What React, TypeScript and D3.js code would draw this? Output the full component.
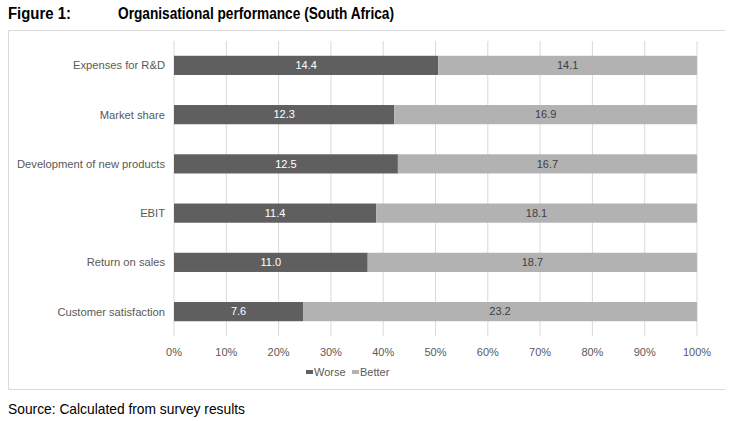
import * as d3 from 'd3';

const categories = [
  'Expenses for R&D',
  'Market share',
  'Development of new products',
  'EBIT',
  'Return on sales',
  'Customer satisfaction',
];
const worse = [14.4, 12.3, 12.5, 11.4, 11.0, 7.6];
const better = [14.1, 16.9, 16.7, 18.1, 18.7, 23.2];
const xTicks = [0, 0.1, 0.2, 0.3, 0.4, 0.5, 0.6, 0.7, 0.8, 0.9, 1];

const darkColor = '#5f5f5f';
const lightColor = '#b2b2b2';
const narrow = '"Liberation Sans Narrow", "Arial Narrow", "Liberation Sans", Arial, sans-serif';
const sans = '"Liberation Sans", Arial, sans-serif';

export default function App() {
  const width = 730;
  const height = 421;
  const plot = { left: 174, right: 697, top: 41, bottom: 336 };

  const x = d3.scaleLinear().domain([0, 1]).range([plot.left, plot.right]);
  const y = d3
    .scaleBand<string>()
    .domain(categories)
    .range([plot.top, plot.bottom])
    .paddingInner(0.61)
    .paddingOuter(0.3);

  const rows = categories.map((name, i) => {
    const total = worse[i] + better[i];
    return { name, worse: worse[i], better: better[i], split: worse[i] / total };
  });

  return (
    <svg
      width={width}
      height={height}
      style={{ position: 'absolute', left: 0, top: 0, background: '#fff' }}
    >
      <text
        x={8}
        y={19}
        fontFamily={narrow}
        fontWeight="bold"
        fontSize={16}
        fill="#000"
        textLength={63}
        lengthAdjust="spacingAndGlyphs"
      >
        Figure 1:
      </text>
      <text
        x={118}
        y={19}
        fontFamily={narrow}
        fontWeight="bold"
        fontSize={16}
        fill="#000"
        textLength={276}
        lengthAdjust="spacingAndGlyphs"
      >
        Organisational performance (South Africa)
      </text>

      {/* frame: top, left and bottom only */}
      <path d="M725,30.5H8.5V389.5H725" fill="none" stroke="#d9d9d9" strokeWidth={1} />

      {xTicks.map((t) => (
        <line
          key={t}
          x1={x(t)}
          x2={x(t)}
          y1={plot.top}
          y2={plot.bottom}
          stroke="#d9d9d9"
          strokeWidth={1}
        />
      ))}

      {rows.map((r) => {
        const y0 = y(r.name) ?? 0;
        const h = y.bandwidth();
        const cy = y0 + h / 2;
        return (
          <g key={r.name}>
            <rect x={x(0)} y={y0} width={x(r.split) - x(0)} height={h} fill={darkColor} />
            <rect x={x(r.split)} y={y0} width={x(1) - x(r.split)} height={h} fill={lightColor} />
            <text
              x={(x(0) + x(r.split)) / 2}
              y={cy}
              dy="0.35em"
              textAnchor="middle"
              fontFamily={sans}
              fontSize={11}
              fill="#fff"
            >
              {r.worse.toFixed(1)}
            </text>
            <text
              x={(x(r.split) + x(1)) / 2}
              y={cy}
              dy="0.35em"
              textAnchor="middle"
              fontFamily={sans}
              fontSize={11}
              fill="#404040"
            >
              {r.better.toFixed(1)}
            </text>
            <text
              x={plot.left - 9}
              y={cy}
              dy="0.35em"
              textAnchor="end"
              fontFamily={sans}
              fontSize={11.2}
              fill="#595959"
            >
              {r.name}
            </text>
          </g>
        );
      })}

      {xTicks.map((t) => (
        <text
          key={`l${t}`}
          x={x(t)}
          y={352}
          dy="0.35em"
          textAnchor="middle"
          fontFamily={sans}
          fontSize={11}
          fill="#595959"
        >
          {d3.format('.0%')(t)}
        </text>
      ))}

      <g fontFamily={sans} fontSize={11} fill="#595959">
        <rect x={306} y={370} width={7} height={4} fill={darkColor} />
        <text x={314} y={372} dy="0.35em">Worse</text>
        <rect x={352} y={370} width={7} height={4} fill={lightColor} />
        <text x={360} y={372} dy="0.35em">Better</text>
      </g>

      <text
        x={8}
        y={414}
        fontFamily={narrow}
        fontSize={15}
        fill="#000"
        textLength={237}
        lengthAdjust="spacingAndGlyphs"
      >
        Source: Calculated from survey results
      </text>
    </svg>
  );
}
